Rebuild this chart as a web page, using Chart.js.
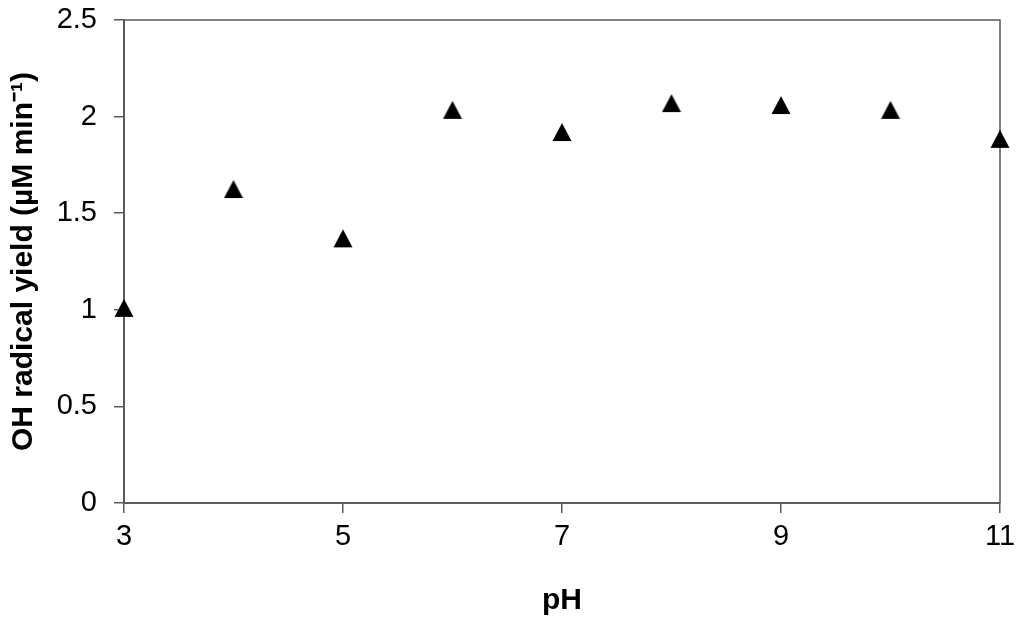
<!DOCTYPE html>
<html>
<head>
<meta charset="utf-8">
<script src="https://cdn.jsdelivr.net/npm/chart.js@4/dist/chart.umd.min.js"></script>
<style>
  html, body { margin: 0; padding: 0; background: #ffffff; }
  #wrap { width: 1024px; height: 620px; }
</style>
</head>
<body>
<div id="wrap"><canvas id="c" width="1024" height="620"></canvas></div>
<script>
// ---- data ----
const phValues = [3, 4, 5, 6, 7, 8, 9, 10, 11];
const ohYield = [1.01, 1.625, 1.37, 2.035, 1.92, 2.07, 2.06, 2.035, 1.885];
const xTickValues = [3, 5, 7, 9, 11];
const yTickValues = [0, 0.5, 1, 1.5, 2, 2.5];
const xTitle = 'pH';
const yTitle = 'OH radical yield (\u00B5M min\u207B\u00B9)';

// ---- marker: filled triangle centred on its bounding box ----
function makeTriangle() {
  const c = document.createElement('canvas');
  c.width = 20; c.height = 20;
  const g = c.getContext('2d');
  g.fillStyle = '#000000';
  g.beginPath();
  g.moveTo(10, 1);
  g.lineTo(19.5, 19);
  g.lineTo(0.5, 19);
  g.closePath();
  g.fill();
  return c;
}
const tri = makeTriangle();

const points = phValues.map((x, i) => ({ x: x, y: ohYield[i] }));

const frame = {
  id: 'frame',
  beforeDatasetsDraw(chart) {
    const a = chart.chartArea, ctx = chart.ctx;
    ctx.save();
    ctx.strokeStyle = '#5a5a5a';
    ctx.lineWidth = 1.5;
    ctx.beginPath();
    ctx.moveTo(a.left, a.top);
    ctx.lineTo(a.right, a.top);
    ctx.lineTo(a.right, a.bottom);
    ctx.stroke();
    ctx.restore();
  }
};

const fontFam = 'Liberation Sans, Arial, sans-serif';

new Chart(document.getElementById('c'), {
  type: 'scatter',
  data: {
    datasets: [{
      label: 'OH radical yield',
      data: points,
      pointStyle: tri,
      pointRadius: 10,
      pointHoverRadius: 10,
      showLine: false,
      clip: false
    }]
  },
  options: {
    responsive: false,
    animation: false,
    layout: { padding: { left: 0, top: 20, right: 24, bottom: 0 } },
    plugins: {
      legend: { display: false },
      tooltip: { enabled: false }
    },
    scales: {
      x: {
        type: 'linear',
        min: 3, max: 11,
        afterBuildTicks(s) { s.ticks = xTickValues.map(v => ({ value: v })); },
        afterFit(s) { s.height = 117; s.paddingLeft = 0; s.paddingRight = 0; },
        grid: { display: true, drawOnChartArea: false, drawTicks: true, tickLength: 10, color: '#5a5a5a', lineWidth: 1.5 },
        border: { display: true, color: '#5a5a5a', width: 2 },
        ticks: { color: '#000000', padding: 7, maxRotation: 0, callback: v => String(v), font: { family: fontFam, size: 29 } },
        title: { display: true, text: xTitle, color: '#000000', padding: { top: 0, bottom: 1 }, font: { family: fontFam, size: 30, weight: 'bold' } }
      },
      y: {
        type: 'linear',
        min: 0, max: 2.5,
        afterBuildTicks(s) { s.ticks = yTickValues.map(v => ({ value: v })); },
        afterFit(s) { s.width = 124; s.paddingTop = 0; s.paddingBottom = 0; },
        grid: { display: true, drawOnChartArea: false, drawTicks: true, tickLength: 10, color: '#5a5a5a', lineWidth: 1.5 },
        border: { display: true, color: '#5a5a5a', width: 2 },
        ticks: { color: '#000000', padding: 17, callback: v => String(v), font: { family: fontFam, size: 29 } },
        title: { display: true, text: yTitle, color: '#000000', padding: { top: 6, bottom: 0 }, font: { family: fontFam, size: 30, weight: 'bold' } }
      }
    }
  },
  plugins: [frame]
});
</script>
</body>
</html>
